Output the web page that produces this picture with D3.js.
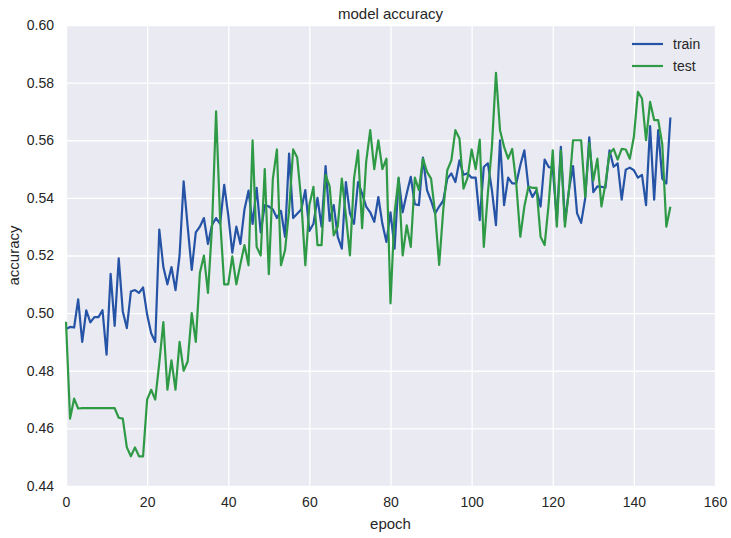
<!DOCTYPE html>
<html lang="en">
  <head>
    <meta charset="utf-8">
    <title>model accuracy</title>
    <style type="text/css">
body {
  margin: 0;
  background: #fff;
}
text {
  font-family: "Liberation Sans", Arial, sans-serif;
  fill: #262626;
}
    </style>
  </head>
  <body>
    <div id="chart"></div>

    <script src="https://cdn.jsdelivr.net/npm/d3@7/dist/d3.min.js"></script>
    <script>
      // accuracy per epoch (150 epochs)
      var train = [
        0.4945, 0.4952, 0.4950, 0.5048, 0.4900, 0.5010, 0.4968, 0.4986, 0.4986, 0.5010,
        0.4856, 0.5136, 0.4956, 0.5190, 0.5006, 0.4948, 0.5075, 0.5080, 0.5070, 0.5089,
        0.4995, 0.4930, 0.4900, 0.5290, 0.5160, 0.5100, 0.5160, 0.5080, 0.5200, 0.5457,
        0.5300, 0.5150, 0.5280, 0.5300, 0.5330, 0.5240, 0.5306, 0.5330, 0.5310, 0.5445,
        0.5340, 0.5210, 0.5300, 0.5240, 0.5360, 0.5425, 0.5310, 0.5435, 0.5280, 0.5375,
        0.5370, 0.5360, 0.5330, 0.5355, 0.5265, 0.5554, 0.5330, 0.5345, 0.5360, 0.5427,
        0.5285, 0.5310, 0.5400, 0.5300, 0.5510, 0.5320, 0.5375, 0.5265, 0.5224, 0.5455,
        0.5346, 0.5310, 0.5455, 0.5415, 0.5370, 0.5350, 0.5317, 0.5403, 0.5310, 0.5247,
        0.5350, 0.5224, 0.5467, 0.5350, 0.5415, 0.5473, 0.5378, 0.5375, 0.5540, 0.5427,
        0.5390, 0.5346, 0.5370, 0.5390, 0.5467, 0.5485, 0.5455, 0.5530, 0.5480, 0.5485,
        0.5470, 0.5470, 0.5323, 0.5507, 0.5520, 0.5427, 0.5305, 0.5600, 0.5375, 0.5470,
        0.5450, 0.5450, 0.5513, 0.5565, 0.5438, 0.5403, 0.5427, 0.5370, 0.5533, 0.5507,
        0.5505, 0.5323, 0.5577, 0.5317, 0.5427, 0.5510, 0.5346, 0.5313, 0.5398, 0.5610,
        0.5420, 0.5440, 0.5438, 0.5436, 0.5565, 0.5508, 0.5520, 0.5394, 0.5498, 0.5505,
        0.5496, 0.5470, 0.5480, 0.5375, 0.5649, 0.5394, 0.5635, 0.5467, 0.5450, 0.5679
      ];
      var test = [
        0.4970, 0.4634, 0.4703, 0.4669, 0.4670, 0.4670, 0.4670, 0.4670, 0.4670, 0.4670,
        0.4670, 0.4670, 0.4670, 0.4637, 0.4634, 0.4534, 0.4503, 0.4534, 0.4503, 0.4503,
        0.4700, 0.4734, 0.4700, 0.4827, 0.4969, 0.4734, 0.4836, 0.4734, 0.4900, 0.4800,
        0.4832, 0.5000, 0.4900, 0.5139, 0.5200, 0.5070, 0.5300, 0.5700, 0.5324, 0.5100,
        0.5100, 0.5197, 0.5100, 0.5170, 0.5236, 0.5166, 0.5600, 0.5230, 0.5200, 0.5500,
        0.5135, 0.5467, 0.5568, 0.5166, 0.5218, 0.5357, 0.5568, 0.5540, 0.5390, 0.5166,
        0.5375, 0.5438, 0.5236, 0.5236, 0.5480, 0.5440, 0.5270, 0.5300, 0.5467, 0.5340,
        0.5200, 0.5467, 0.5565, 0.5295, 0.5525, 0.5635, 0.5500, 0.5600, 0.5500, 0.5536,
        0.5034, 0.5346, 0.5470, 0.5200, 0.5305, 0.5230, 0.5470, 0.5427, 0.5536, 0.5490,
        0.5467, 0.5346, 0.5167, 0.5357, 0.5496, 0.5530, 0.5635, 0.5606, 0.5432, 0.5470,
        0.5568, 0.5500, 0.5602, 0.5230, 0.5415, 0.5577, 0.5834, 0.5635, 0.5577, 0.5536,
        0.5570, 0.5450, 0.5265, 0.5370, 0.5438, 0.5435, 0.5435, 0.5265, 0.5236, 0.5380,
        0.5565, 0.5300, 0.5565, 0.5300, 0.5427, 0.5600, 0.5600, 0.5600, 0.5403, 0.5590,
        0.5460, 0.5536, 0.5370, 0.5450, 0.5554, 0.5570, 0.5533, 0.5570, 0.5568, 0.5536,
        0.5612, 0.5768, 0.5745, 0.5600, 0.5733, 0.5670, 0.5670, 0.5586, 0.5300, 0.5369
      ];
      var xTicks = [0, 20, 40, 60, 80, 100, 120, 140, 160];
      var yTicks = [0.44, 0.46, 0.48, 0.50, 0.52, 0.54, 0.56, 0.58, 0.60];
      var seriesNames = ["train", "test"];
      var seriesColors = ["#2553a5", "#2f9a46"];

      var W = 731, H = 538;
      var margin = {top: 25, right: 16, bottom: 52, left: 66},
          width = W - margin.left - margin.right,
          height = H - margin.top - margin.bottom;

      var svg = d3.select("#chart").append("svg")
          .attr("width", W)
          .attr("height", H);

      var g = svg.append("g").attr("transform", "translate(" + margin.left + "," + margin.top + ")");

      var x = d3.scaleLinear().domain([0, 160]).range([0, width]);
      var y = d3.scaleLinear().domain([0.44, 0.60]).range([height, 0]);

      // seaborn darkgrid look
      g.append("rect")
          .attr("width", width)
          .attr("height", height)
          .attr("fill", "#eaeaf2");

      g.append("g")
          .attr("class", "grid")
          .attr("transform", "translate(0," + height + ")")
          .call(d3.axisBottom(x).tickValues(xTicks).tickSize(-height).tickFormat(""))
          .call(function(s) { s.select(".domain").remove(); });

      g.append("g")
          .attr("class", "grid")
          .call(d3.axisLeft(y).tickValues(yTicks).tickSize(-width).tickFormat(""))
          .call(function(s) { s.select(".domain").remove(); });

      g.selectAll(".grid line")
          .attr("stroke", "#fff")
          .attr("stroke-width", 1.3);

      // tick labels, no tick marks
      var xAxis = g.append("g")
          .attr("transform", "translate(0," + height + ")")
          .call(d3.axisBottom(x).tickValues(xTicks).tickSize(0).tickPadding(11).tickFormat(d3.format("d")));
      var yAxis = g.append("g")
          .call(d3.axisLeft(y).tickValues(yTicks).tickSize(0).tickPadding(12).tickFormat(d3.format(".2f")));

      [xAxis, yAxis].forEach(function(a) {
        a.select(".domain").remove();
        a.selectAll("text")
            .style("font-family", "'Liberation Sans', Arial, sans-serif")
            .style("font-size", "14px")
            .attr("fill", "#262626");
      });

      var line = d3.line()
          .x(function(d, i) { return x(i); })
          .y(function(d) { return y(d); });

      [train, test].forEach(function(s, k) {
        g.append("path")
            .datum(s)
            .attr("fill", "none")
            .attr("stroke", seriesColors[k])
            .attr("stroke-width", 2.2)
            .attr("stroke-linejoin", "round")
            .attr("d", line);
      });

      // titles
      svg.append("text")
          .attr("x", margin.left + width / 2)
          .attr("y", 19)
          .attr("text-anchor", "middle")
          .style("font-size", "15px")
          .text("model accuracy");

      svg.append("text")
          .attr("x", margin.left + width / 2)
          .attr("y", 529)
          .attr("text-anchor", "middle")
          .style("font-size", "15px")
          .text("epoch");

      svg.append("text")
          .attr("transform", "translate(19," + (margin.top + height / 2) + ") rotate(-90)")
          .attr("text-anchor", "middle")
          .style("font-size", "15px")
          .text("accuracy");

      // legend, top right, no frame
      var legend = svg.append("g").attr("transform", "translate(632,44)");
      seriesNames.forEach(function(name, k) {
        var row = legend.append("g").attr("transform", "translate(0," + (k * 22) + ")");
        row.append("line")
            .attr("x1", 0).attr("x2", 31)
            .attr("stroke", seriesColors[k])
            .attr("stroke-width", 2.2);
        row.append("text")
            .attr("x", 41)
            .attr("dy", "0.35em")
            .style("font-size", "14px")
            .text(name);
      });
    </script>
  </body>
</html>
